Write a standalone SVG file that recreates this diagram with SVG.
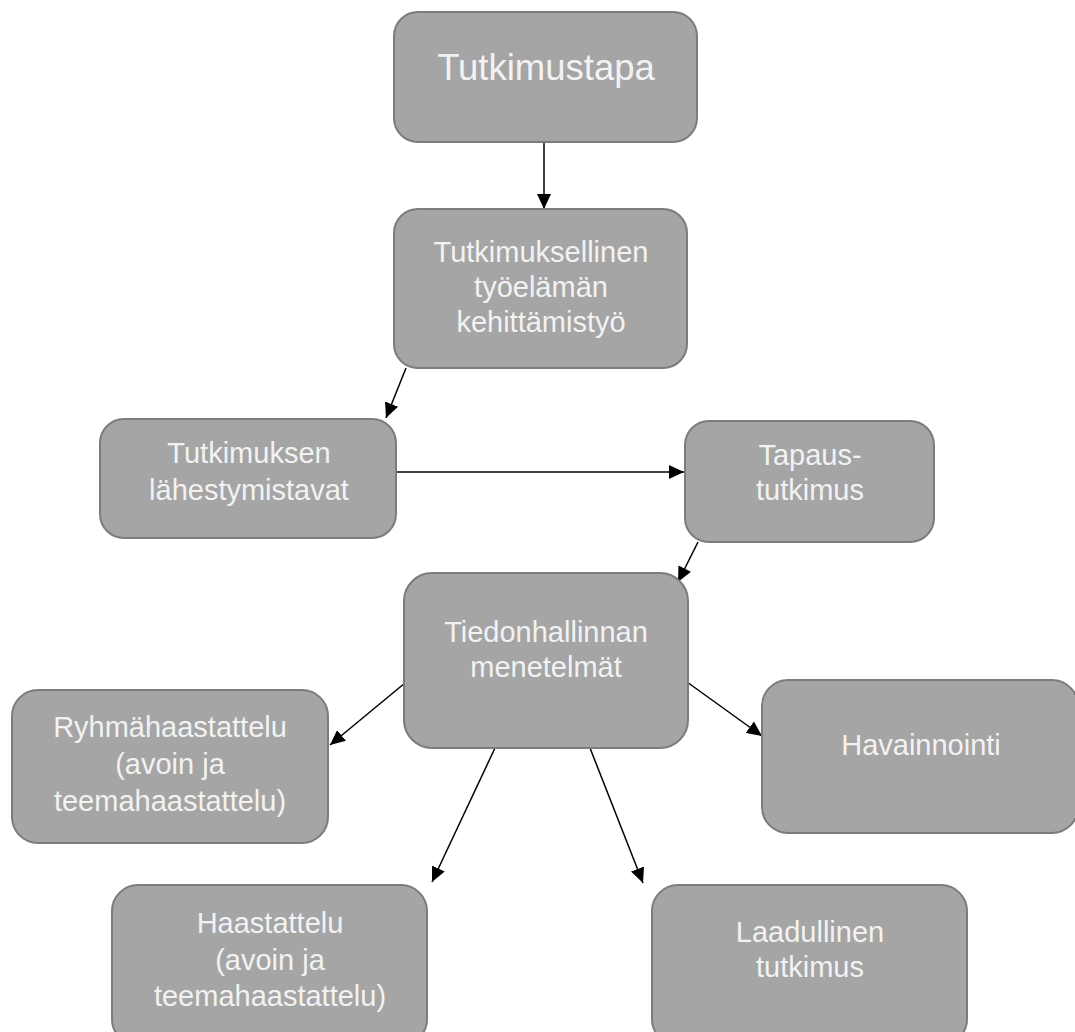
<svg xmlns="http://www.w3.org/2000/svg" width="1075" height="1032" viewBox="0 0 1075 1032">
  <style>
    .box { fill: #a5a5a5; stroke: #7c7c7c; stroke-width: 2; }
    .lbl { fill: #f2f2f2; font-family: "Liberation Sans", Arial, sans-serif; font-size: 29px; text-anchor: middle; }
    .big { font-size: 36.5px; }
    .edge { stroke: #000; stroke-width: 1.5; fill: none; marker-end: url(#arrow); }
  </style>
  <defs>
    <marker id="arrow" markerUnits="userSpaceOnUse" markerWidth="16" markerHeight="14" refX="15" refY="7" orient="auto">
      <path d="M0,0 L15,7 L0,14 Z" fill="#000"/>
    </marker>
  </defs>
  <rect width="1075" height="1032" fill="#fff"/>

  <g id="connectors">
    <line class="edge" x1="544" y1="143" x2="544" y2="209"/>
    <line class="edge" x1="406" y1="368" x2="386" y2="418"/>
    <line class="edge" x1="396" y1="472" x2="684" y2="472"/>
    <line class="edge" x1="698" y1="542" x2="678" y2="582"/>
    <line class="edge" x1="405" y1="683" x2="330" y2="745"/>
    <line class="edge" x1="687" y1="682" x2="762" y2="736"/>
    <line class="edge" x1="495" y1="748" x2="432" y2="882"/>
    <line class="edge" x1="590" y1="748" x2="643" y2="883"/>
  </g>

  <g id="node-tutkimustapa">
    <rect class="box" x="394" y="12" width="303" height="130" rx="24"/>
    <text class="lbl big" x="546" y="80">Tutkimustapa</text>
  </g>

  <g id="node-kehittamistyo">
    <rect class="box" x="394" y="209" width="293" height="159" rx="24"/>
    <text class="lbl" x="541" y="262">Tutkimuksellinen</text>
    <text class="lbl" x="541" y="297">työelämän</text>
    <text class="lbl" x="541" y="332">kehittämistyö</text>
  </g>

  <g id="node-lahestymistavat">
    <rect class="box" x="100" y="419" width="296" height="119" rx="24"/>
    <text class="lbl" x="249" y="463">Tutkimuksen</text>
    <text class="lbl" x="249" y="500">lähestymistavat</text>
  </g>

  <g id="node-tapaustutkimus">
    <rect class="box" x="685" y="421" width="249" height="121" rx="24"/>
    <text class="lbl" x="810" y="465">Tapaus-</text>
    <text class="lbl" x="810" y="500">tutkimus</text>
  </g>

  <g id="node-tiedonhallinta">
    <rect class="box" x="404" y="573" width="284" height="175" rx="28"/>
    <text class="lbl" x="546" y="642">Tiedonhallinnan</text>
    <text class="lbl" x="546" y="677">menetelmät</text>
  </g>

  <g id="node-ryhmahaastattelu">
    <rect class="box" x="12" y="690" width="316" height="153" rx="26"/>
    <text class="lbl" x="170" y="737">Ryhmähaastattelu</text>
    <text class="lbl" x="170" y="774">(avoin ja</text>
    <text class="lbl" x="170" y="811">teemahaastattelu)</text>
  </g>

  <g id="node-havainnointi">
    <rect class="box" x="762" y="680" width="316" height="153" rx="26"/>
    <text class="lbl" x="921" y="755">Havainnointi</text>
  </g>

  <g id="node-haastattelu">
    <rect class="box" x="112" y="885" width="315" height="160" rx="26"/>
    <text class="lbl" x="270" y="933">Haastattelu</text>
    <text class="lbl" x="270" y="970">(avoin ja</text>
    <text class="lbl" x="270" y="1006">teemahaastattelu)</text>
  </g>

  <g id="node-laadullinen">
    <rect class="box" x="652" y="885" width="315" height="160" rx="26"/>
    <text class="lbl" x="810" y="942">Laadullinen</text>
    <text class="lbl" x="810" y="977">tutkimus</text>
  </g>
</svg>
